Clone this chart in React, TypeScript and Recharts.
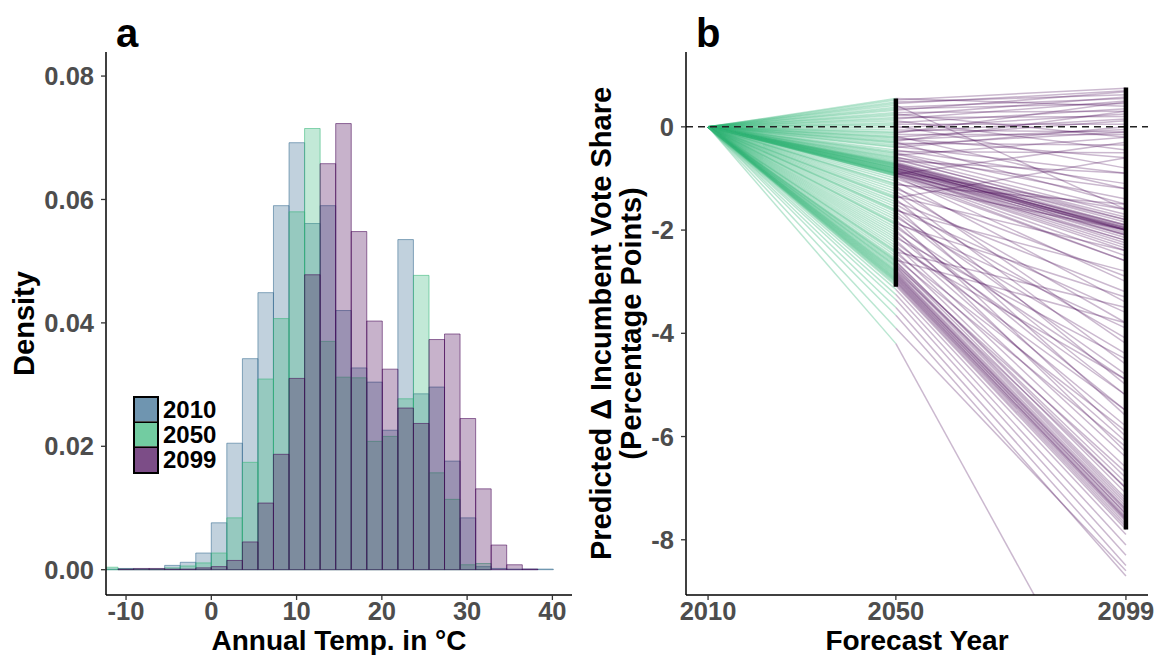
import React from 'react';
import { ComposedChart, LineChart, Line, XAxis, YAxis, ReferenceArea, ReferenceLine } from 'recharts';

const FONT = '"Liberation Sans", Arial, Helvetica, sans-serif';

// ---------- Panel a: histogram data ----------
const binWidth = 1.823;
const binCenters = [
  -11.85, -10.03, -8.2, -6.38, -4.56, -2.73, -0.91, 0.91, 2.73, 4.56,
  6.38, 8.2, 10.03, 11.85, 13.67, 15.5, 17.32, 19.14, 20.97, 22.79,
  24.62, 26.44, 28.26, 30.09, 31.91, 33.73, 35.56, 37.38, 39.2,
];
const dens2010 = [
  0.0001, 0.0002, 0.0001, 0.0001, 0.0007, 0.0012, 0.0027, 0.0076, 0.0205, 0.0342,
  0.0449, 0.059, 0.0692, 0.0561, 0.059, 0.042, 0.0327, 0.0304, 0.0226, 0.0535,
  0.0285, 0.0296, 0.0176, 0.0084, 0.0005, 0.0002, 0.0001, 0.0001, 0.0001,
];
const dens2050 = [
  0.0004, 0.0001, 0.0001, 0.0001, 0.0003, 0.0006, 0.0011, 0.0027, 0.0084, 0.0174,
  0.0309, 0.0407, 0.058, 0.0715, 0.037, 0.0312, 0.0311, 0.0208, 0.0216, 0.0277,
  0.0477, 0.0157, 0.0114, 0.0008, 0.001, 0, 0, 0, 0,
];
const dens2099 = [
  0, 0.0001, 0.0002, 0.0002, 0.0001, 0.0001, 0.0003, 0.0005, 0.0015, 0.0045,
  0.0108, 0.0187, 0.031, 0.0478, 0.0658, 0.0723, 0.0548, 0.0403, 0.0325, 0.0262,
  0.0237, 0.0373, 0.0382, 0.0245, 0.0131, 0.004, 0.0008, 0.0001, 0,
];
const histYears = ['2010', '2050', '2099'];
const histColors = ['#31688E', '#35B779', '#440154'];
const tempTicks = [-10, 0, 10, 20, 30, 40];
const densityTicks = [0, 0.02, 0.04, 0.06, 0.08];

// ---------- Panel b: forecast lines ----------
const forecastYears = [2010, 2050, 2099];
const change2050 = [
  0.55, 0.52, 0.48, 0.45, 0.42, 0.38, 0.35, 0.32, 0.28, 0.25, 0.22, 0.18, 0.15, 0.12, 0.08, 0.05, 0.02, -0.02, -0.06, -0.1,
  -0.12, -0.15, -0.18, -0.2, -0.22, -0.25, -0.28, -0.3, -0.32, -0.35, -0.38, -0.4,
  -0.45, -0.48, -0.5, -0.52, -0.55, -0.58, -0.6, -0.62, -0.64, -0.66,
  -0.68, -0.7, -0.71, -0.72, -0.73, -0.74, -0.75, -0.76, -0.77, -0.78,
  -0.79, -0.8, -0.8, -0.81, -0.82, -0.83, -0.84, -0.85, -0.86, -0.87,
  -0.88, -0.89, -0.9, -0.9, -0.91, -0.92, -0.93, -0.94, -0.95, -0.96,
  -1.0, -1.05, -1.1, -1.15, -1.2, -1.25, -1.3, -1.35, -1.4, -1.45,
  -1.5, -1.55, -1.6, -1.65, -1.7, -1.75, -1.8, -1.85, -1.9, -1.95,
  -2.0, -1.12, -1.38, -1.62, -1.88,
  -2.05, -2.1, -2.15, -2.2, -2.25, -2.3, -2.35, -2.4, -2.45, -2.5,
  -2.55, -2.6, -2.62, -2.65, -2.68, -2.7, -2.72, -2.75, -2.78, -2.8,
  -2.82, -2.84, -2.86, -2.88, -2.9, -2.92, -2.94, -2.96, -2.98, -3.0,
  -3.02, -3.05, -3.08, -2.58, -2.42,
  -3.15, -3.25, -3.35, -3.5, -3.65, -3.9, -4.2,
];
const change2099 = [
  0.4, 0.75, 0.62, 0.7, -1.6, 0.55, 0.45, 0.68, 0.3, -0.2, 0.58, 0.2, 0.5, -0.45, 0.35, 0.05, -0.8, 0.25, -0.1, 0.15,
  0.48, -0.15, -1.2, 0.12, -0.6, -0.05, 0.3, -1.5, -0.35, -0.1, -0.9, 0.0,
  -1.1, -0.5, -1.4, -1.6, -0.2, -1.7, -1.2, -1.8, -1.75, -0.9,
  -1.85, -1.9, -1.95, -1.8, -2.0, -1.92, -1.98, -2.05, -1.9, -2.0,
  -2.1, -1.97, -2.02, -1.95, -2.08, -2.15, -2.0, -2.2, -2.25, -1.6,
  -2.3, -2.1, -2.0, -2.35, -2.4, -0.3, -2.5, -2.2, -2.6, -3.0,
  -2.6, -3.4, -2.0, -4.2, -2.9, -3.8, -4.6, -2.4, -5.0, -3.2,
  -4.1, -5.6, -3.6, -4.8, -5.2, -4.4, -6.0, -3.9, -5.5, -4.9,
  -6.3, -1.5, -0.6, -2.8, -3.3,
  -5.2, -5.8, -4.5, -6.1, -5.5, -6.4, -4.9, -6.6, -5.9, -6.8,
  -6.2, -7.0, -6.9, -7.1, -6.7, -7.2, -7.25, -7.3, -7.0, -7.35,
  -7.4, -7.45, -7.5, -7.42, -7.55, -7.5, -7.6, -7.58, -7.62, -7.65,
  -7.7, -7.75, -7.8, -3.8, -3.5,
  -7.9, -8.1, -8.3, -8.5, -8.7, -8.6, -12.3,
];
const voteTicks = [-8, -6, -4, -2, 0];
const rangeYears = [2050, 2099];
const rangeTop = [0.55, 0.76];
const rangeBottom = [-3.1, -7.8];

// ---------- derived tables ----------
const histRows = binCenters.map((c, i) => ({ center: c, d2010: dens2010[i], d2050: dens2050[i], d2099: dens2099[i] }));
const histKeys = ['d2010', 'd2050', 'd2099'];

const lineRows = forecastYears.map((yr, r) => {
  const row: Record<string, number | null> = { year: yr };
  change2050.forEach((v, i) => {
    row['g' + i] = r === 0 ? 0 : r === 1 ? v : null;
    row['p' + i] = r === 0 ? null : r === 1 ? v : change2099[i];
  });
  return row;
});

const tickStyle = { fill: '#4d4d4d', fontSize: 25.5, fontWeight: 700, fontFamily: FONT };
const axisLineStyle = { stroke: '#000', strokeWidth: 1.5 };
const tickLineStyle = { stroke: '#333', strokeWidth: 1.3 };

const yTitle = (lines: string[], baselineXs: number[]) => (props: any) => {
  const vb = props.viewBox || { x: 0, y: 52, width: 106, height: 543 };
  const cy = vb.y + vb.height / 2;
  return (
    <g>
      {lines.map((t, i) => {
        const x = vb.x + baselineXs[i];
        return (
          <text key={i} x={x} y={cy} transform={`rotate(-90 ${x} ${cy})`} textAnchor="middle"
            fontSize={29} fontWeight={700} fontFamily={FONT} fill="#000">{t}</text>
        );
      })}
    </g>
  );
};

const xTitle = (label: string) => (props: any) => {
  const vb = props.viewBox || { x: 106, y: 595, width: 466, height: 60 };
  return (
    <text x={vb.x + vb.width / 2} y={vb.y + 55} textAnchor="middle" fontSize={28} fontWeight={700}
      fontFamily={FONT} fill="#000">{label}</text>
  );
};

const tagStyle: React.CSSProperties = {
  position: 'absolute', fontFamily: FONT, fontWeight: 700, fontSize: 40, lineHeight: '40px', color: '#000',
};

export default function App() {
  return (
    <div style={{ position: 'absolute', left: 0, top: 0, width: 1157, height: 655, background: '#fff', overflow: 'hidden' }}>
      <div style={{ position: 'absolute', left: 0, top: 0 }}>
        <ComposedChart width={580} height={655} data={histRows} margin={{ top: 52, right: 8, bottom: 0, left: 0 }}>
          <XAxis dataKey="center" type="number" domain={[-12.35, 42.3]} ticks={tempTicks} allowDataOverflow
            height={60} tickSize={5} tickMargin={2} tick={tickStyle} axisLine={axisLineStyle} tickLine={tickLineStyle}
            label={{ content: xTitle('Annual Temp. in °C') } as any} />
          <YAxis type="number" domain={[-0.0041, 0.0839]} ticks={densityTicks} allowDataOverflow width={106}
            tickSize={5} tickMargin={7} tick={tickStyle} axisLine={axisLineStyle} tickLine={tickLineStyle}
            tickFormatter={(v: number) => v.toFixed(2)}
            label={{ content: yTitle(['Density'], [34]) } as any} />
          {histKeys.map((k, s) =>
            histRows.map((r: any, i) =>
              r[k] > 0 ? (
                <ReferenceArea key={k + i} x1={r.center - binWidth / 2} x2={r.center + binWidth / 2} y1={0} y2={r[k]}
                  ifOverflow="hidden" fill={histColors[s]} fillOpacity={0.3} stroke={histColors[s]} strokeOpacity={0.55}
                  strokeWidth={1} />
              ) : null
            )
          )}
        </ComposedChart>
      </div>

      <div style={{ position: 'absolute', left: 580, top: 0 }}>
        <LineChart width={577} height={655} data={lineRows} margin={{ top: 52, right: 9, bottom: 0, left: 0 }}>
          <XAxis dataKey="year" type="number" domain={[2005.3, 2103.7]} ticks={forecastYears} allowDataOverflow
            height={60} tickSize={5} tickMargin={2} tick={tickStyle} axisLine={axisLineStyle} tickLine={tickLineStyle}
            label={{ content: xTitle('Forecast Year') } as any} />
          <YAxis type="number" domain={[-9.07, 1.45]} ticks={voteTicks} allowDataOverflow width={106}
            tickSize={5} tickMargin={7} tick={tickStyle} axisLine={axisLineStyle} tickLine={tickLineStyle}
            label={{ content: yTitle(['Predicted \u0394 Incumbent Vote Share', '(Percentage Points)'], [31, 61]) } as any} />
          {change2050.map((_, i) => (
            <Line key={'g' + i} dataKey={'g' + i} stroke="#35B779" strokeOpacity={0.34} strokeWidth={1.5}
              dot={false} activeDot={false} isAnimationActive={false} connectNulls={false} />
          ))}
          {change2050.map((_, i) => (
            <Line key={'p' + i} dataKey={'p' + i} stroke="#440154" strokeOpacity={0.28} strokeWidth={1.5}
              dot={false} activeDot={false} isAnimationActive={false} connectNulls={false} />
          ))}
          <ReferenceLine y={0} stroke="#222" strokeWidth={1.5} strokeDasharray="7 5" />
          {rangeYears.map((yr, i) => (
            <ReferenceLine key={'r' + i} segment={[{ x: yr, y: rangeTop[i] }, { x: yr, y: rangeBottom[i] }]}
              stroke="#000" strokeWidth={4.5} />
          ))}
        </LineChart>
      </div>

      <div style={{ ...tagStyle, left: 116, top: 13 }}>a</div>
      <div style={{ ...tagStyle, left: 696, top: 13 }}>b</div>

      <div style={{ position: 'absolute', left: 133, top: 396 }}>
        {histYears.map((yr, i) => (
          <div key={yr} style={{ display: 'flex', alignItems: 'center', height: 27.5, marginTop: i > 0 ? -2.5 : 0 }}>
            <div style={{ boxSizing: 'border-box', width: 26, height: 27.5, border: '2.5px solid #000',
              background: histColors[i], opacity: 1 }}>
              <div style={{ width: '100%', height: '100%', background: '#fff', opacity: 0.3 }} />
            </div>
            <span style={{ marginLeft: 4, fontFamily: FONT, fontWeight: 700, fontSize: 24, color: '#000', lineHeight: '24px' }}>{yr}</span>
          </div>
        ))}
      </div>
    </div>
  );
}
